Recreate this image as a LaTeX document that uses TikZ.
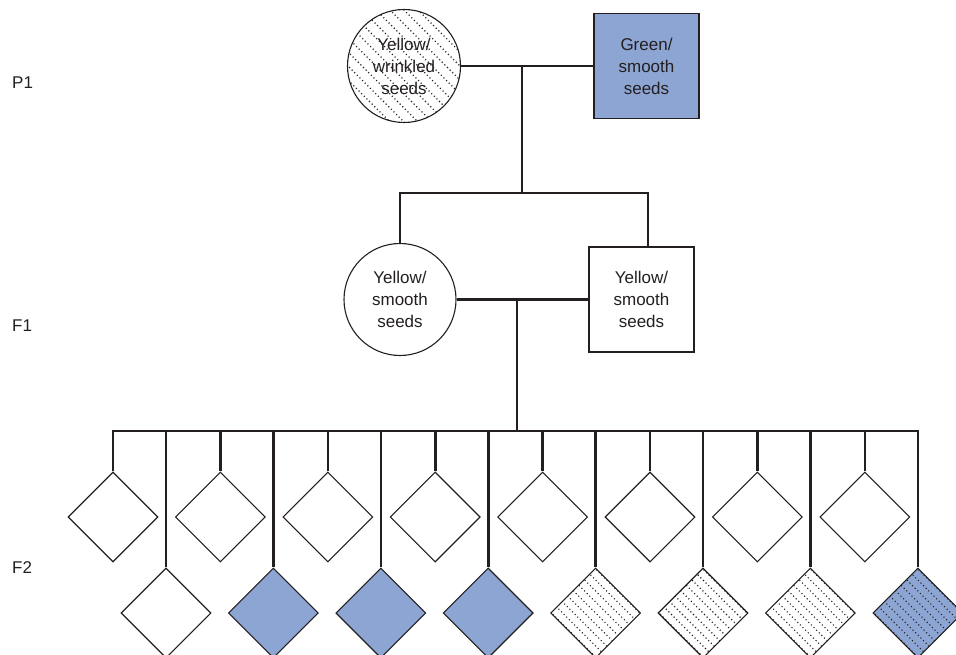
\documentclass[tikz,border=0pt]{standalone}
\usepackage{fontspec}
\setmainfont{Liberation Sans}
\usetikzlibrary{shapes.geometric,calc}
\definecolor{seedblue}{RGB}{140,165,211}
\definecolor{ink}{RGB}{35,31,32}
\begin{document}
\begin{tikzpicture}[x=1pt,y=-1pt,
  link/.style={draw=ink,line width=2.6pt,line join=miter},
  outline/.style={draw=ink,line width=1.1pt},
  seedtext/.style={font=\fontsize{17}{22}\selectfont,text=ink,align=center},
  gen/.style={font=\fontsize{17}{20}\selectfont,text=ink,anchor=west,inner sep=0pt},
  plant/.style={outline,circle,inner sep=0pt,seedtext},
  block/.style={outline,rectangle,inner sep=0pt,seedtext},
  seed/.style={outline,diamond,aspect=1,inner sep=0pt,minimum width=90pt,minimum height=90pt},
  hatch/.style={path picture={
    \foreach \k in {-14,...,14}
      \draw[ink,line width=1.1pt,dash pattern=on 1.1pt off 2.6pt]
        ($(path picture bounding box.center)+(\k*#1-80,-80)$) -- ++(160,160);}},
  hatch/.default=11
]
\useasboundingbox (0,0) rectangle (956,655);
\clip (0,0) rectangle (956,655);

% generation labels
\node[gen] (lp1) at (12,82.5) {P1};
\node[gen] (lf1) at (12,325.5) {F1};
\node[gen] (lf2) at (12,567.5) {F2};

% parental generation
\node[plant,hatch=14,minimum size=113pt] (p1f) at (404,66) {Yellow/\\wrinkled\\seeds};
\node[block,fill=seedblue,minimum size=105pt] (p1m) at (646.5,66) {Green/\\smooth\\seeds};

% first filial generation
\node[plant,minimum size=112pt] (f1f) at (400,299.5) {Yellow/\\smooth\\seeds};
\node[block,minimum size=105pt] (f1m) at (641.5,299.5) {Yellow/\\smooth\\seeds};

% second filial generation: upper row
\foreach \i in {1,...,8}
  \node[seed] (t\i) at ({113+107.4*(\i-1)},517) {};

% second filial generation: lower row
\node[seed] (b1) at (166,613) {};
\foreach \i in {2,3,4}
  \node[seed,fill=seedblue] (b\i) at ({166+107.4*(\i-1)},613) {};
\foreach \i in {5,6,7}
  \node[seed,hatch] (b\i) at ({166+107.4*(\i-1)},613) {};
\node[seed,fill=seedblue,hatch] (b8) at ({166+107.4*7},613) {};

% P1 cross
\coordinate (j1) at (522,66);
\coordinate (bar1) at (522,193);
\coordinate (d2) at ($(f1m.north)+(6.5,0)$);
\draw[link] (p1f.east) -- (p1m.west);
\draw[link] (j1) -- (bar1);
\draw[link] (f1f.north) |- (bar1) -| (d2);

% F1 cross
\coordinate (j2) at (517,299.5);
\coordinate (bar2) at (517,431);
\draw[link] (f1f.east) -- (f1m.west);
\draw[link] (j2) -- (bar2);
\draw[link] (t1.north) -- (t1.north |- bar2) -- (b8.north |- bar2) -- (b8.north);
\foreach \i in {2,...,8}
  \draw[link] (t\i.north |- bar2) -- (t\i.north);
\foreach \i in {1,...,7}
  \draw[link] (b\i.north |- bar2) -- (b\i.north);
\end{tikzpicture}
\end{document}
